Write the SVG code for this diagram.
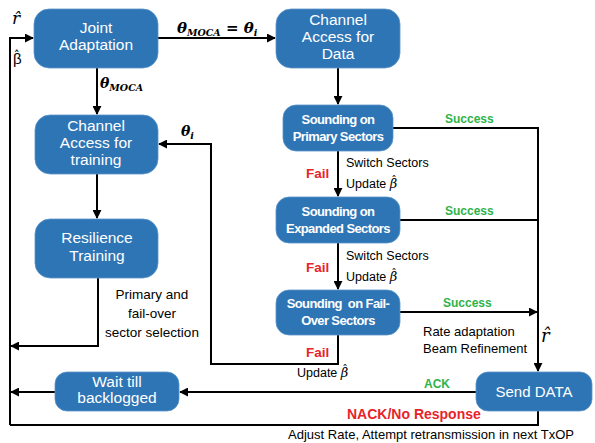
<svg xmlns="http://www.w3.org/2000/svg" width="595" height="443" viewBox="0 0 595 443">
<defs>
<marker id="ah" viewBox="0 0 10 10" refX="9" refY="5" markerWidth="4.5" markerHeight="4.5" orient="auto" markerUnits="strokeWidth">
<path d="M0,0 L10,5 L0,10 z" fill="#000"/>
</marker>
</defs>
<style>
.box{fill:#2e75b6;stroke:#5a93c8;stroke-width:0.8}
.bt{font-family:"Liberation Sans",Arial,sans-serif;font-size:15.5px;fill:#fff;text-anchor:middle}
.st{font-family:"Liberation Sans",Arial,sans-serif;font-size:13px;font-weight:bold;fill:#fff;text-anchor:middle;letter-spacing:-0.6px}
.ln{fill:none;stroke:#000;stroke-width:2}
.arr{marker-end:url(#ah)}
.lab{font-family:"Liberation Sans",Arial,sans-serif;font-size:12.5px;fill:#000}
.ok{font-family:"Liberation Sans",Arial,sans-serif;font-size:12px;font-weight:bold;fill:#2db34a}
.bad{font-family:"Liberation Sans",Arial,sans-serif;font-size:13.5px;font-weight:bold;fill:#e8232a}
.m{font-family:"DejaVu Serif",serif;font-weight:bold;font-style:italic;fill:#000}
.mh{font-family:"DejaVu Serif",serif;font-style:italic;fill:#000}
.hat{font-family:"DejaVu Sans",sans-serif;font-style:normal}
</style>

<g id="connectors">
<path class="ln arr" d="M10,425 V38 H33"/>
<path class="ln" d="M10,425 H538 V411"/>
<path class="ln arr" d="M158,38 H275"/>
<path class="ln arr" d="M97,68 V114"/>
<path class="ln arr" d="M338,68 V104"/>
<path class="ln arr" d="M97,174 V218"/>
<path class="ln arr" d="M98,278 V346 H11"/>
<path class="ln arr" d="M55,392 H11"/>
<path class="ln arr" d="M476,392 H180"/>
<path class="ln arr" d="M338,151 V196"/>
<path class="ln arr" d="M338,243 V289"/>
<path class="ln" d="M393,128 H538 V220"/>
<path class="ln" d="M400,220 H538"/>
<path class="ln arr" d="M400,312 H537"/>
<path class="ln arr" d="M538,220 V371"/>
<path class="ln arr" d="M338,335 V364 H211 V144 H159"/>
</g>

<g id="joint">
<rect class="box" x="34" y="9" width="124" height="59" rx="15"/>
<text class="bt" x="96" y="33">Joint</text>
<text class="bt" x="96" y="50">Adaptation</text>
</g>
<g id="chdata">
<rect class="box" x="276" y="9" width="124" height="59" rx="15"/>
<text class="bt" x="338" y="25">Channel</text>
<text class="bt" x="338" y="42">Access for</text>
<text class="bt" x="338" y="59">Data</text>
</g>
<g id="chtrain">
<rect class="box" x="35" y="115" width="123" height="59" rx="15"/>
<text class="bt" x="96" y="131">Channel</text>
<text class="bt" x="96" y="148">Access for</text>
<text class="bt" x="96" y="165">training</text>
</g>
<g id="resil">
<rect class="box" x="35" y="219" width="123" height="59" rx="15"/>
<text class="bt" x="97" y="243">Resilience</text>
<text class="bt" x="97" y="261">Training</text>
</g>
<g id="primary">
<rect class="box" x="283" y="105" width="110" height="46" rx="13"/>
<text class="st" x="338" y="124">Sounding on</text>
<text class="st" x="338" y="141">Primary Sectors</text>
</g>
<g id="expanded">
<rect class="box" x="276" y="197" width="124" height="46" rx="13"/>
<text class="st" x="338" y="216">Sounding on</text>
<text class="st" x="338" y="233">Expanded Sectors</text>
</g>
<g id="failover">
<rect class="box" x="276" y="290" width="124" height="45" rx="13"/>
<text class="st" x="338" y="308" xml:space="preserve">Sounding  on Fail-</text>
<text class="st" x="338" y="325">Over Sectors</text>
</g>
<g id="send">
<rect class="box" x="476" y="372" width="116" height="39" rx="12"/>
<text class="bt" x="534" y="397" style="font-size:15px">Send DATA</text>
</g>
<g id="wait">
<rect class="box" x="55" y="372" width="124" height="39" rx="12"/>
<text class="bt" x="117" y="387">Wait till</text>
<text class="bt" x="117" y="403">backlogged</text>
</g>

<g id="labels">
<text class="mh" x="12" y="24" style="font-size:17px">r̂</text>
<text class="lab" x="13" y="64" style="font-size:15px">β<tspan class="hat" dx="-8" dy="-4" style="font-size:12px">ˆ</tspan></text>
<text class="m" x="177" y="33" style="font-size:15px">θ<tspan style="font-size:9.5px" dy="3">MOCA</tspan><tspan dy="-3"> = θ</tspan><tspan style="font-size:9.5px" dy="3">i</tspan></text>
<text class="m" x="100" y="88" style="font-size:14px">θ<tspan style="font-size:9.5px" dy="3">MOCA</tspan></text>
<text class="m" x="181" y="136" style="font-size:14px">θ<tspan style="font-size:9.5px" dy="3">i</tspan></text>
<text class="ok" x="445" y="123">Success</text>
<text class="ok" x="445" y="215">Success</text>
<text class="ok" x="443" y="307">Success</text>
<text class="bad" x="306" y="178">Fail</text>
<text class="bad" x="306" y="272">Fail</text>
<text class="bad" x="306" y="357">Fail</text>
<text class="lab" x="346" y="167">Switch Sectors</text>
<text class="lab" x="346" y="188">Update <tspan class="mh" style="font-size:13px">β</tspan><tspan class="hat" dx="-6" dy="-4.5" style="font-size:11px">ˆ</tspan></text>
<text class="lab" x="346" y="260">Switch Sectors</text>
<text class="lab" x="346" y="281">Update <tspan class="mh" style="font-size:13px">β</tspan><tspan class="hat" dx="-6" dy="-4.5" style="font-size:11px">ˆ</tspan></text>
<text class="lab" x="297" y="377">Update <tspan class="mh" style="font-size:13px">β</tspan><tspan class="hat" dx="-6" dy="-4.5" style="font-size:11px">ˆ</tspan></text>
<text class="lab" x="152" y="299" text-anchor="middle" style="font-size:13.5px">Primary and</text>
<text class="lab" x="152" y="318" text-anchor="middle" style="font-size:13.5px">fail-over</text>
<text class="lab" x="152" y="337" text-anchor="middle" style="font-size:13.5px">sector selection</text>
<text class="lab" x="423" y="336" style="font-size:13px">Rate adaptation</text>
<text class="lab" x="423" y="353" style="font-size:13px">Beam Refinement</text>
<text class="mh" x="541" y="342" style="font-size:18px">r̂</text>
<text class="ok" x="424" y="388">ACK</text>
<text class="bad" x="347" y="419" style="font-size:14px">NACK/No Response</text>
<text class="lab" x="288" y="439" style="font-size:13px" textLength="286" lengthAdjust="spacing">Adjust Rate, Attempt retransmission in next TxOP</text>
</g>
</svg>
